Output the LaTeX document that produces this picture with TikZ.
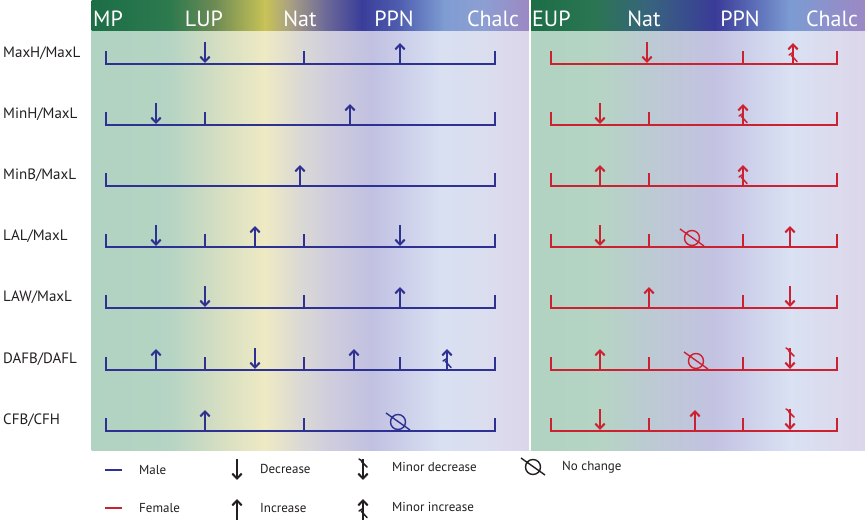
\documentclass[tikz,border=0pt]{standalone}
\usepackage{fontspec}
\setmainfont{PT Sans}
\usetikzlibrary{arrows.meta}
\definecolor{mblue}{HTML}{2E3192}
\definecolor{fred}{HTML}{CC2131}
\definecolor{H1}{HTML}{1C6E47}
\definecolor{H2}{HTML}{2D7A4E}
\definecolor{H3}{HTML}{6E8B55}
\definecolor{H4}{HTML}{C8C356}
\definecolor{H5}{HTML}{A9A083}
\definecolor{H6}{HTML}{6E6A98}
\definecolor{H7}{HTML}{3A3D99}
\definecolor{H8}{HTML}{4F5FB0}
\definecolor{H9}{HTML}{7F9DD3}
\definecolor{H10}{HTML}{8D9ED2}
\definecolor{H11}{HTML}{9C88C2}
\definecolor{P1}{HTML}{B1D3C1}
\definecolor{P2}{HTML}{B5D4C3}
\definecolor{P3}{HTML}{D3DDC2}
\definecolor{P4}{HTML}{EEEAC3}
\definecolor{P5}{HTML}{DDDBD2}
\definecolor{P6}{HTML}{CFCDDD}
\definecolor{P7}{HTML}{C1C0E1}
\definecolor{P8}{HTML}{D8E0F2}
\definecolor{P9}{HTML}{DBDEEF}
\definecolor{P10}{HTML}{DCD5EA}
\definecolor{R1}{HTML}{1C6E47}
\definecolor{R2}{HTML}{2B7553}
\definecolor{R3}{HTML}{38637E}
\definecolor{R4}{HTML}{3A3B98}
\definecolor{R5}{HTML}{7C9BD3}
\definecolor{R6}{HTML}{9C88C4}
\definecolor{Q1}{HTML}{B1D3C1}
\definecolor{Q2}{HTML}{B5D4C4}
\definecolor{Q3}{HTML}{BCCAD3}
\definecolor{Q4}{HTML}{C3C2E2}
\definecolor{Q5}{HTML}{D9E1F3}
\definecolor{Q6}{HTML}{DDD6EA}
\definecolor{txt}{HTML}{231F20}
\begin{document}
\begin{tikzpicture}[x=1pt,y=-1pt,
  arr/.style={line width=2pt,-{Straight Barb[length=5pt,width=9.5pt]}},
  sq/.style={line width=1.5pt,line cap=round},
  tl/.style={line width=1.8pt,line cap=rect},
  hdr/.style={text=white,font=\fontsize{22}{26}\selectfont,inner sep=0pt},
  rowlab/.style={text=txt,font=\fontsize{15}{18}\selectfont,anchor=west,inner sep=0pt},
  leg/.style={text=txt,font=\fontsize{13}{16}\selectfont,anchor=west,inner sep=0pt},
  pics/arrup/.style={code={\draw[arr] (0,0) -- (0,-21);}},
  pics/arrdown/.style={code={\draw[arr] (0,-22) -- (0,-1);}},
  pics/minup/.style={code={\draw[arr] (0,0) -- (0,-21);
     \draw[sq] (-4,-9) -- (0,-11.5) (-1.5,-8.5) -- (4,-2.5);}},
  pics/mindown/.style={code={\draw[arr] (0,-22) -- (0,-1);
     \draw[sq] (-4,-22) -- (0,-19.5) (-1.5,-19.5) -- (4,-14);}},
  pics/nochg/.style={code={\draw[line width=1.4pt] (0,-9) circle (7.5) (-12,-18) -- (12,-1);}}
]
\useasboundingbox (0,0) rectangle (865,522);
\fill[white] (0,0) rectangle (865,522);
% left panel background
\foreach \xa/\ca/\xb/\cb in {92/P1/170/P2,170/P2/215/P3,215/P3/265/P4,265/P4/295/P5,295/P5/330/P6,330/P6/372/P7,372/P7/440/P8,440/P8/485/P9,485/P9/529/P10}
  \shade[left color=\ca,right color=\cb] (\xa-0.3,30) rectangle (\xb+0.3,450);
\foreach \xa/\ca/\xb/\cb in {92/H1/170/H2,170/H2/215/H3,215/H3/265/H4,265/H4/290/H5,290/H5/325/H6,325/H6/362/H7,362/H7/400/H8,400/H8/445/H9,445/H9/485/H10,485/H10/529/H11}
  \shade[left color=\ca,right color=\cb] (\xa-0.3,0) rectangle (\xb+0.3,30.5);
% right panel background
\foreach \xa/\ca/\xb/\cb in {531/Q1/600/Q2,600/Q2/650/Q3,650/Q3/715/Q4,715/Q4/790/Q5,790/Q5/865/Q6}
  \shade[left color=\ca,right color=\cb] (\xa-0.3,30) rectangle (\xb+0.3,450);
\foreach \xa/\ca/\xb/\cb in {531/R1/595/R2,595/R2/650/R3,650/R3/715/R4,715/R4/790/R5,790/R5/865/R6}
  \shade[left color=\ca,right color=\cb] (\xa-0.3,0) rectangle (\xb+0.3,30.5);
\fill[white] (529,0) rectangle (531,450);
% headers
\node[hdr,anchor=west] (hMP) at (93,19) {MP};
\node[hdr] (hLUP) at (204,19) {LUP};
\node[hdr] (hNat) at (300,19) {Nat};
\node[hdr] (hPPN) at (394,19) {PPN};
\node[hdr] (hChalc) at (493,19) {Chalc};
\node[hdr,anchor=west] (rEUP) at (532,19) {EUP};
\node[hdr] (rNat) at (644,19) {Nat};
\node[hdr] (rPPN) at (740,19) {PPN};
\node[hdr] (rChalc) at (832,19) {Chalc};
% row labels
\node[rowlab] (l1) at (3,53) {MaxH/MaxL};
\node[rowlab] (l2) at (3,114) {MinH/MaxL};
\node[rowlab] (l3) at (3,175) {MinB/MaxL};
\node[rowlab] (l4) at (3,236) {LAL/MaxL};
\node[rowlab] (l5) at (3,297) {LAW/MaxL};
\node[rowlab] (l6) at (3,359) {DAFB/DAFL};
\node[rowlab] (l7) at (3,420) {CFB/CFH};
% ---------- male timelines ----------
\begin{scope}[mblue]
\foreach \b/\ticks in {64/{106,304,495},125/{106,205,495},186/{106,495},247/{106,205,304,495},308/{106,304,400,495},370/{106,205,304,400,495},431/{106,304,495}}{
  \draw[tl] (106,\b) -- (495,\b);
  \foreach \t in \ticks \draw[tl] (\t,\b) -- (\t,\b-12);
}
\pic at (205,64) {arrdown};   \pic at (400,64) {arrup};
\pic at (156,125) {arrdown};  \pic at (350,125) {arrup};
\pic at (300,186) {arrup};
\pic at (156,247) {arrdown};  \pic at (255,247) {arrup};  \pic at (400,247) {arrdown};
\pic at (205,308) {arrdown};  \pic at (400,308) {arrup};
\pic at (156,370) {arrup};    \pic at (255,370) {arrdown}; \pic at (354,370) {arrup}; \pic at (447,370) {minup};
\pic at (205,431) {arrup};    \pic at (398,431) {nochg};
\end{scope}
% ---------- female timelines ----------
\begin{scope}[fred]
\foreach \b/\ticks in {64/{551,743,837},125/{551,649,837},186/{551,649,837},247/{551,649,743,837},308/{551,649,743,837},370/{551,649,743,837},431/{551,649,743,837}}{
  \draw[tl] (551,\b) -- (837,\b);
  \foreach \t in \ticks \draw[tl] (\t,\b) -- (\t,\b-12);
}
\pic at (647,64) {arrdown};   \pic at (793,64) {minup};
\pic at (600,125) {arrdown};  \pic at (743,125) {minup};
\pic at (600,186) {arrup};    \pic at (743,186) {minup};
\pic at (600,247) {arrdown};  \pic at (692,247) {nochg};  \pic at (790,247) {arrup};
\pic at (649,308) {arrup};    \pic at (790,308) {arrdown};
\pic at (600,370) {arrup};    \pic at (696,370) {nochg};  \pic at (790,370) {mindown};
\pic at (600,431) {arrdown};  \pic at (695,431) {arrup};  \pic at (790,431) {mindown};
\end{scope}
% ---------- legend ----------
\draw[mblue,line width=2.2pt] (105,470) -- (122,470);
\draw[fred,line width=2.2pt] (105,508) -- (122,508);
\node[leg] (lgMale) at (139,470) {Male};
\node[leg] (lgFemale) at (139,508) {Female};
\begin{scope}[txt]
\pic at (237,481) {arrdown};
\pic at (237,520) {arrup};
\pic at (363,481) {mindown};
\pic at (363,520) {minup};
\pic at (533,476) {nochg};
\end{scope}
\node[leg] (lgDec) at (260,469) {Decrease};
\node[leg] (lgInc) at (260,508) {Increase};
\node[leg] (lgMinDec) at (392,467) {Minor decrease};
\node[leg] (lgMinInc) at (392,507) {Minor increase};
\node[leg] (lgNo) at (562,467) {No change};
\end{tikzpicture}
\end{document}
